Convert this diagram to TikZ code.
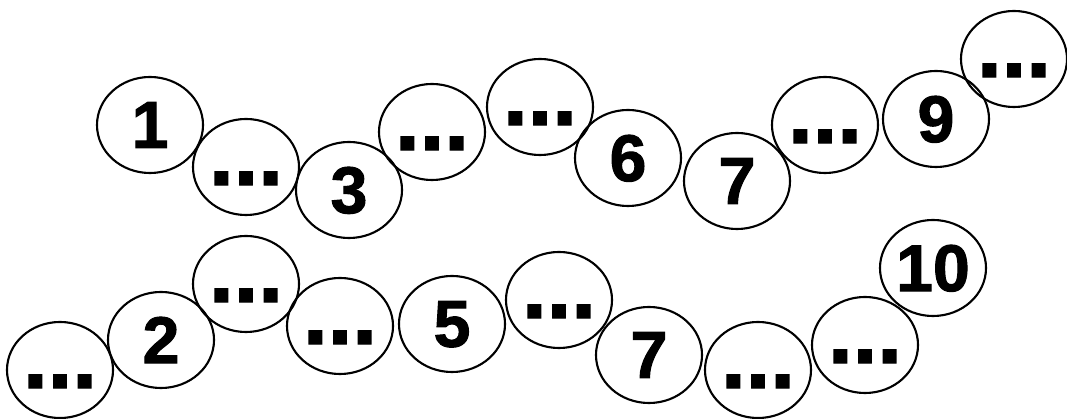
\documentclass[tikz,border=0pt]{standalone}
\usepackage{fontspec}
\setmainfont{Liberation Sans}
\newfontfamily\heavyfont{Liberation Sans}[BoldFeatures={FakeBold=1.6}]
\usetikzlibrary{shapes.geometric, positioning}

\begin{document}
\begin{tikzpicture}[x=0.025cm, y=-0.025cm,
    bead/.style={ellipse, draw, line width=1.5pt, inner sep=0pt, minimum width=2.65cm, minimum height=2.4cm, text depth=0pt, font=\heavyfont\bfseries\fontsize{47}{47}\selectfont},
    blank/.style={bead, inner xsep=-0.6cm, text height=0.9cm, font=\heavyfont\bfseries\fontsize{63}{63}\selectfont}]
    \useasboundingbox (0,0) rectangle (1067,419);

    % upper chain
    \node (t1) at (150,125) [bead] {1};
    \node (t2) at (246,167) [blank] {...};
    \node (t3) at (349,190) [bead] {3};
    \node (t4) at (432,132) [blank] {...};
    \node (t5) at (540,107) [blank] {...};
    \node (t6) at (628,158) [bead] {6};
    \node (t7) at (737,181) [bead] {7};
    \node (t8) at (825,125) [blank] {...};
    \node (t9) at (936,119) [bead] {9};
    \node (t10) at (1014,59) [blank] {...};

    % lower chain
    \node (b1) at (60,370) [blank] {...};
    \node (b2) at (161,340) [bead] {2};
    \node (b3) at (246,284) [blank] {...};
    \node (b4) at (340,326) [blank] {...};
    \node (b5) at (452,324) [bead] {5};
    \node (b6) at (559,300) [blank] {...};
    \node (b7) at (649,355) [bead] {7};
    \node (b8) at (758,370) [blank] {...};
    \node (b9) at (865,345) [blank] {...};
    \node (b10) at (933,268) [bead] {10};
\end{tikzpicture}
\end{document}
